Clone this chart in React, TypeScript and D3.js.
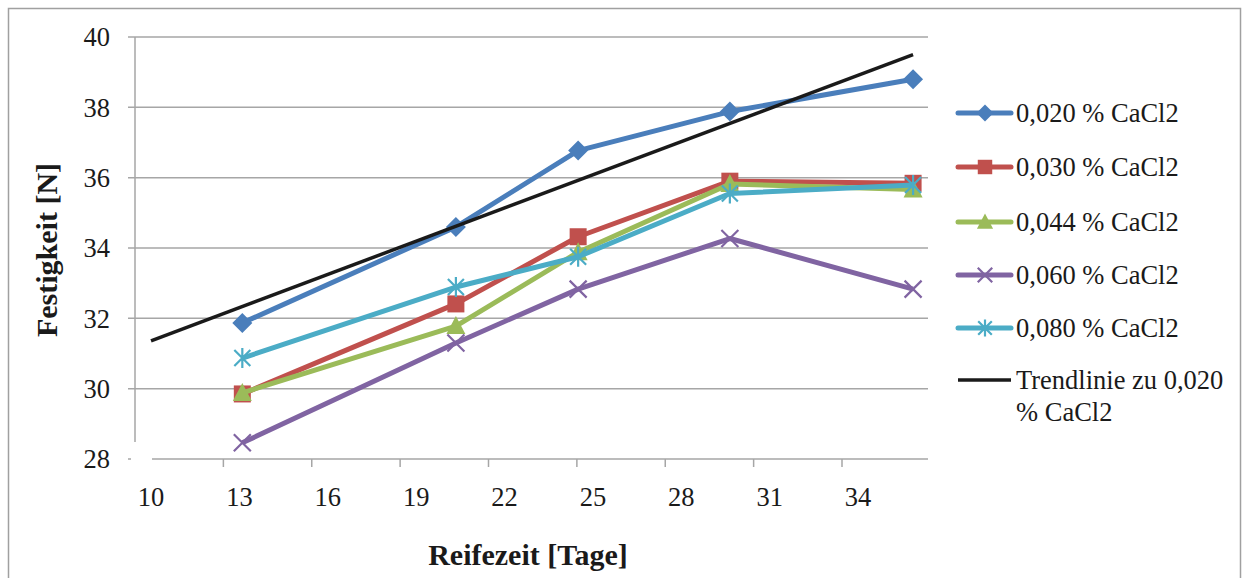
import React, { useEffect, useRef } from 'react';
import * as d3 from 'd3';

// Reifezeit in Tagen
const days = [13.1, 20.35, 24.5, 29.65, 35.87];

// Festigkeit [N] je CaCl2-Konzentration
const cacl2_020 = [31.87, 34.6, 36.77, 37.88, 38.8];
const cacl2_030 = [29.85, 32.41, 34.32, 35.9, 35.84];
const cacl2_044 = [29.88, 31.78, 33.88, 35.82, 35.66];
const cacl2_060 = [28.46, 31.3, 32.83, 34.27, 32.83];
const cacl2_080 = [30.87, 32.89, 33.75, 35.55, 35.79];

// linearer Trend zu 0,020 % (Endpunkte)
const trendX = [10, 35.87];
const trendY = [31.36, 39.5];

const xTicks = [10, 13, 16, 19, 22, 25, 28, 31, 34];
const yTicks = [28, 30, 32, 34, 36, 38, 40];

const seriesNames = ['0,020 % CaCl2', '0,030 % CaCl2', '0,044 % CaCl2', '0,060 % CaCl2', '0,080 % CaCl2'];
const seriesValues = [cacl2_020, cacl2_030, cacl2_044, cacl2_060, cacl2_080];
const seriesColors = ['#4a7ebb', '#c0504d', '#9bbb59', '#8064a2', '#4bacc6'];
const seriesMarkers = ['diamond', 'square', 'triangle', 'x', 'star'];

const FONT = '"Liberation Serif", "Times New Roman", serif';

function drawMarker(g: any, kind: string, cx: number, cy: number, r: number, color: string) {
  if (kind === 'diamond') {
    g.append('path')
      .attr('d', `M${cx},${cy - r}L${cx + r},${cy}L${cx},${cy + r}L${cx - r},${cy}Z`)
      .attr('fill', color);
  } else if (kind === 'square') {
    const s = r * 0.85;
    g.append('rect')
      .attr('x', cx - s).attr('y', cy - s)
      .attr('width', 2 * s).attr('height', 2 * s)
      .attr('fill', color);
  } else if (kind === 'triangle') {
    g.append('path')
      .attr('d', `M${cx},${cy - r}L${cx + r * 0.95},${cy + r * 0.8}L${cx - r * 0.95},${cy + r * 0.8}Z`)
      .attr('fill', color);
  } else if (kind === 'x') {
    const s = r * 0.85;
    g.append('path')
      .attr('d', `M${cx - s},${cy - s}L${cx + s},${cy + s}M${cx - s},${cy + s}L${cx + s},${cy - s}`)
      .attr('stroke', color).attr('stroke-width', 2.2).attr('fill', 'none');
  } else if (kind === 'star') {
    const s = r * 0.8;
    g.append('path')
      .attr('d', `M${cx - s},${cy - s}L${cx + s},${cy + s}M${cx - s},${cy + s}L${cx + s},${cy - s}M${cx},${cy - r}L${cx},${cy + r}`)
      .attr('stroke', color).attr('stroke-width', 2.2).attr('fill', 'none');
  }
}

const FestigkeitChart: React.FC = () => {
  const chartRef = useRef<SVGSVGElement | null>(null);

  useEffect(() => {
    if (!chartRef.current) return;
    const width = 1247;
    const height = 578;

    const svg = d3.select(chartRef.current)
      .attr('width', width)
      .attr('height', height);
    svg.selectAll('*').remove();

    // Rahmen
    svg.append('rect')
      .attr('x', 8.5).attr('y', 8.5)
      .attr('width', 1232).attr('height', 620)
      .attr('fill', 'white')
      .attr('stroke', '#a0a0a0')
      .attr('stroke-width', 1.5);

    const x = d3.scaleLinear().domain([10, 34]).range([151, 858]);
    const y = d3.scaleLinear().domain([28, 40]).range([459, 37]);
    const tickShift = -16;
    const gridLeft = 135;
    const gridRight = 928;

    // horizontale Gitternetzlinien
    svg.append('g')
      .selectAll('line')
      .data(yTicks.filter(t => t > 28))
      .enter().append('line')
      .attr('x1', gridLeft - 7).attr('x2', gridRight)
      .attr('y1', d => y(d)).attr('y2', d => y(d))
      .attr('stroke', '#a6a6a6').attr('stroke-width', 1.5);

    // Achsen
    svg.append('line')
      .attr('x1', gridLeft).attr('x2', gridLeft)
      .attr('y1', y(40)).attr('y2', y(28) - 17)
      .attr('stroke', '#a6a6a6').attr('stroke-width', 1.5);
    svg.append('line')
      .attr('x1', gridLeft + 17).attr('x2', gridRight)
      .attr('y1', y(28)).attr('y2', y(28))
      .attr('stroke', '#a6a6a6').attr('stroke-width', 1.5);
    svg.append('line')
      .attr('x1', gridLeft - 7).attr('x2', gridLeft - 4)
      .attr('y1', y(28)).attr('y2', y(28))
      .attr('stroke', '#a6a6a6').attr('stroke-width', 1.5);

    svg.append('g')
      .selectAll('line')
      .data(xTicks.filter(t => t > 10))
      .enter().append('line')
      .attr('x1', d => x(d) + tickShift).attr('x2', d => x(d) + tickShift)
      .attr('y1', y(28)).attr('y2', y(28) + 8)
      .attr('stroke', '#a6a6a6').attr('stroke-width', 1.5);

    svg.append('g')
      .selectAll('text')
      .data(yTicks)
      .enter().append('text')
      .attr('x', 110).attr('y', d => y(d))
      .attr('dy', '0.35em')
      .attr('text-anchor', 'end')
      .style('font-family', FONT).style('font-size', '26.5px').attr('fill', '#1a1a1a')
      .text(d => d);

    svg.append('g')
      .selectAll('text')
      .data(xTicks)
      .enter().append('text')
      .attr('x', d => x(d)).attr('y', 506)
      .attr('text-anchor', 'middle')
      .style('font-family', FONT).style('font-size', '26.5px').attr('fill', '#1a1a1a')
      .text(d => d);

    // Achsentitel
    svg.append('text')
      .attr('x', 528).attr('y', 565)
      .attr('text-anchor', 'middle')
      .style('font-family', FONT).style('font-size', '30px').style('font-weight', 'bold')
      .attr('fill', '#1a1a1a')
      .text('Reifezeit [Tage]');

    svg.append('text')
      .attr('transform', 'translate(57,250) rotate(-90)')
      .attr('text-anchor', 'middle')
      .style('font-family', FONT).style('font-size', '30px').style('font-weight', 'bold')
      .attr('fill', '#1a1a1a')
      .text('Festigkeit [N]');

    // Datenreihen
    const line = d3.line<number>()
      .x((_, i) => x(days[i]))
      .y(d => y(d));

    seriesValues.forEach((vals, si) => {
      const g = svg.append('g');
      g.append('path')
        .datum(vals)
        .attr('d', line)
        .attr('fill', 'none')
        .attr('stroke', seriesColors[si])
        .attr('stroke-width', 5)
        .attr('stroke-linejoin', 'round');
      vals.forEach((v, i) => drawMarker(g, seriesMarkers[si], x(days[i]), y(v), 10, seriesColors[si]));
    });

    // Trendlinie
    svg.append('line')
      .attr('x1', x(trendX[0])).attr('y1', y(trendY[0]))
      .attr('x2', x(trendX[1])).attr('y2', y(trendY[1]))
      .attr('stroke', '#1a1a1a').attr('stroke-width', 3.5);

    // Legende
    const legendY = [113, 167, 222, 275, 328];
    seriesNames.forEach((name, si) => {
      const g = svg.append('g');
      g.append('line')
        .attr('x1', 958).attr('x2', 1011)
        .attr('y1', legendY[si]).attr('y2', legendY[si])
        .attr('stroke', seriesColors[si]).attr('stroke-width', 5)
        .attr('stroke-linecap', 'round');
      drawMarker(g, seriesMarkers[si], 985, legendY[si], 8.5, seriesColors[si]);
      g.append('text')
        .attr('x', 1016).attr('y', legendY[si])
        .attr('dy', '0.35em')
        .style('font-family', FONT).style('font-size', '26.5px').attr('fill', '#1a1a1a')
        .text(name);
    });
    svg.append('line')
      .attr('x1', 958).attr('x2', 1011)
      .attr('y1', 380).attr('y2', 380)
      .attr('stroke', '#1a1a1a').attr('stroke-width', 3.5);
    const trendLabel = svg.append('text')
      .style('font-family', FONT).style('font-size', '26.5px').attr('fill', '#1a1a1a');
    trendLabel.append('tspan').attr('x', 1016).attr('y', 380).attr('dy', '0.35em').text('Trendlinie zu 0,020');
    trendLabel.append('tspan').attr('x', 1016).attr('y', 412).attr('dy', '0.35em').text('% CaCl2');
  }, []);

  return <svg ref={chartRef} style={{ position: 'absolute', left: 0, top: 0 }}></svg>;
};

export default function App() {
  return <FestigkeitChart />;
}
